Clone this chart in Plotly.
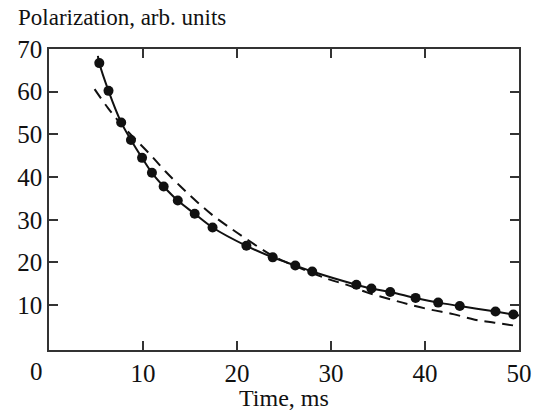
import plotly.graph_objects as go

# Measured polarization decay
time_ms = [5.35, 6.33, 7.68, 8.72, 9.9, 10.95, 12.2, 13.7, 15.5, 17.4,
           21.0, 23.8, 26.2, 28.0, 32.7, 34.3, 36.3, 39.0, 41.4, 43.7, 47.5, 49.4]
polarization = [66.7, 60.2, 52.8, 48.7, 44.5, 41.0, 37.8, 34.5, 31.4, 28.2,
                23.9, 21.2, 19.3, 17.9, 14.8, 13.9, 13.1, 11.7, 10.6, 9.8, 8.5, 7.8]

# Two-component fit (solid)
fit2_t = [5.2, 5.35, 6.33, 7.68, 8.72, 9.9, 10.95, 12.2, 13.7, 15.5, 17.4,
          21.0, 23.8, 26.2, 28.0, 32.7, 34.3, 36.3, 39.0, 41.4, 43.7, 47.5, 49.4, 50.0]
fit2_p = [68.4, 66.7, 60.2, 52.8, 48.7, 44.5, 41.0, 37.8, 34.5, 31.4, 28.2,
          23.9, 21.2, 19.3, 17.9, 14.8, 13.9, 13.1, 11.7, 10.6, 9.8, 8.5, 7.8, 7.6]

# Single-exponential fit (dashed)
fit1_t = [4.85, 6.3, 8.0, 10.8, 12.4, 14.0, 15.7, 17.5, 19.4, 21.0, 23.3, 25.1,
          29.7, 31.7, 33.8, 36.2, 38.4, 40.7, 43.0, 45.3, 47.4, 49.9]
fit1_p = [60.6, 56.1, 51.6, 45.2, 41.3, 37.8, 34.3, 30.9, 27.9, 25.5, 22.2, 20.2,
          16.1, 14.75, 13.0, 11.45, 10.1, 8.9, 7.9, 6.6, 5.9, 5.1]

x_ticks = [0, 10, 20, 30, 40, 50]
y_ticks = [10, 20, 30, 40, 50, 60, 70]

FONT = "Liberation Serif"
INK = "#111111"
AXIS = "#333333"
TICK_SIZE = 25

fig = go.Figure()
fig.add_trace(go.Scatter(
    x=fit1_t, y=fit1_p, mode="lines",
    line=dict(color=INK, width=2, dash="11px,7px", shape="spline"),
    hoverinfo="skip", showlegend=False))
fig.add_trace(go.Scatter(
    x=fit2_t, y=fit2_p, mode="lines",
    line=dict(color=INK, width=2, shape="spline"),
    hoverinfo="skip", showlegend=False))
fig.add_trace(go.Scatter(
    x=time_ms, y=polarization, mode="markers",
    marker=dict(color=INK, size=10),
    showlegend=False))

axis_common = dict(
    showgrid=False, zeroline=False, showline=True, linecolor=AXIS, linewidth=1.5,
    mirror="ticks", ticks="inside", ticklen=9, tickwidth=1.5, tickcolor=AXIS,
    tickfont=dict(family=FONT, size=TICK_SIZE, color=INK), automargin=False,
)

# the origin label sits left of the corner, so it is drawn separately
x_text = ["" if v == 0 else str(v) for v in x_ticks]

fig.update_layout(
    width=538, height=412,
    margin=dict(l=49, r=19, t=49, b=62),
    paper_bgcolor="white", plot_bgcolor="white",
    xaxis=dict(range=[0, 50], tickvals=x_ticks, ticktext=x_text, **axis_common),
    yaxis=dict(range=[-0.5, 70], tickvals=y_ticks, ticktext=[str(v) for v in y_ticks],
               **axis_common),
    annotations=[
        dict(text="Polarization, arb. units", xref="paper", yref="paper",
             x=-0.07, y=1.105, xanchor="left", yanchor="middle", showarrow=False,
             font=dict(family=FONT, size=23, color=INK)),
        dict(text="Time, ms", xref="paper", yref="paper",
             x=0.5, y=-0.158, xanchor="center", yanchor="middle", showarrow=False,
             font=dict(family=FONT, size=24, color=INK)),
        dict(text=str(x_ticks[0]), xref="paper", yref="paper",
             x=-0.027, y=-0.072, xanchor="center", yanchor="middle", showarrow=False,
             font=dict(family=FONT, size=TICK_SIZE, color=INK)),
    ],
)

fig.write_html("out.html")
